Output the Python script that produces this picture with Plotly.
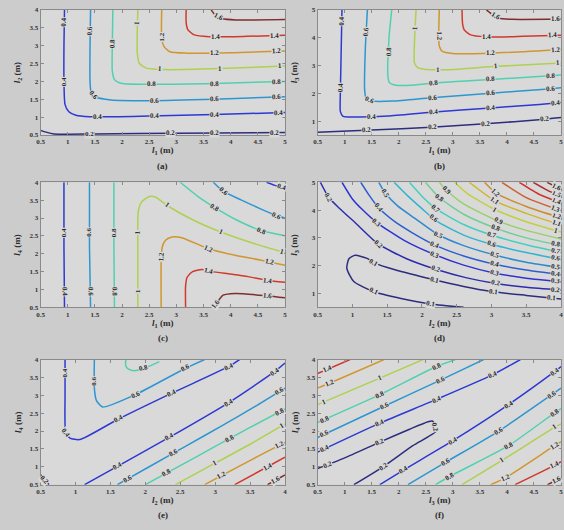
import math
import plotly.graph_objects as go

W, H = 564, 530
PAPER_BG = "#cccccc"
PLOT_BG = "#d9d9d9"
FONT = "Liberation Serif"

# ---------------- data ----------------
# each contour line: (level, x points, y points)
A_LINES = [
    (0.2, [0.5, 0.6, 0.75, 1.5, 3.0, 5.0], [0.63, 0.58, 0.53, 0.53, 0.55, 0.57]),
    (0.4, [0.94, 0.93, 0.93, 0.95, 1.02, 1.15, 1.4, 2.5, 3.7, 5.0], [4.0, 3.0, 2.0, 1.35, 1.15, 1.05, 1.01, 1.03, 1.07, 1.13]),
    (0.6, [1.42, 1.41, 1.41, 1.43, 1.5, 1.8, 2.5, 3.7, 5.0], [4.0, 3.0, 2.0, 1.7, 1.57, 1.48, 1.46, 1.5, 1.57]),
    (0.8, [1.83, 1.82, 1.82, 1.86, 1.97, 2.4, 3.7, 5.0], [4.0, 3.0, 2.3, 2.05, 1.95, 1.92, 1.94, 2.0]),
    (1.0, [2.29, 2.28, 2.28, 2.32, 2.45, 2.8, 3.8, 5.0], [4.0, 3.4, 2.8, 2.5, 2.37, 2.33, 2.36, 2.43]),
    (1.2, [2.73, 2.73, 2.77, 2.88, 3.2, 4.0, 5.0], [4.0, 3.2, 2.98, 2.83, 2.79, 2.8, 2.85]),
    (1.4, [3.18, 3.18, 3.21, 3.33, 3.6, 4.3, 5.0], [4.0, 3.65, 3.45, 3.3, 3.25, 3.26, 3.29]),
    (1.6, [3.64, 3.72, 3.85, 4.1, 5.0], [4.0, 3.85, 3.75, 3.72, 3.73]),
]
A_LABEL_AT = [
    [(1.4, 0.53), (2.9, 0.55), (3.7, 0.56), (4.8, 0.57)],
    [(0.93, 3.65), (0.93, 2.0), (1.55, 1.02), (2.6, 1.03), (3.7, 1.07), (4.88, 1.12)],
    [(1.42, 3.4), (1.47, 1.62), (2.6, 1.46), (3.7, 1.51), (4.85, 1.56)],
    [(1.82, 3.05), (2.55, 1.93), (3.7, 1.95), (4.85, 1.99)],
    [(2.28, 3.65), (2.7, 2.33), (3.8, 2.36), (4.9, 2.42)],
    [(2.73, 3.25), (3.7, 2.8), (4.85, 2.84)],
    [(3.72, 3.25), (4.8, 3.28)],
    [(3.78, 3.8)],
]

B_LINES = [
    (0.2, [0.5, 1.5, 2.6, 3.6, 4.7, 5.0], [0.6, 0.68, 0.78, 0.9, 1.07, 1.13]),
    (0.4, [0.95, 0.93, 0.92, 0.92, 0.97, 1.2, 1.8, 2.6, 3.7, 4.6, 5.0], [5.0, 3.0, 2.0, 1.35, 1.17, 1.15, 1.18, 1.32, 1.47, 1.6, 1.67]),
    (0.6, [1.42, 1.38, 1.37, 1.4, 1.5, 1.9, 2.6, 3.7, 4.7, 5.0], [5.0, 3.5, 2.1, 1.8, 1.72, 1.72, 1.84, 2.0, 2.15, 2.2]),
    (0.8, [1.87, 1.82, 1.8, 1.83, 1.95, 2.3, 2.7, 3.7, 4.8, 5.0], [5.0, 4.0, 2.6, 2.38, 2.29, 2.3, 2.38, 2.5, 2.63, 2.67]),
    (1.0, [2.32, 2.29, 2.29, 2.35, 2.5, 2.9, 3.8, 5.0], [5.0, 3.8, 3.1, 2.92, 2.86, 2.85, 2.97, 3.09]),
    (1.2, [2.75, 2.74, 2.75, 2.8, 3.0, 3.7, 5.0], [5.0, 4.2, 3.7, 3.52, 3.43, 3.44, 3.58]),
    (1.4, [3.17, 3.18, 3.21, 3.33, 3.6, 4.3, 5.0], [5.0, 4.5, 4.28, 4.1, 4.03, 4.05, 4.09]),
    (1.6, [3.62, 3.72, 3.85, 4.1, 5.0], [5.0, 4.85, 4.7, 4.66, 4.67]),
]
B_LABEL_AT = [
    [(1.4, 0.69), (2.63, 0.78), (3.6, 0.9), (4.7, 1.07)],
    [(0.94, 4.6), (0.92, 2.2), (1.5, 1.15), (2.65, 1.33), (3.7, 1.47), (4.9, 1.65)],
    [(1.4, 4.2), (1.45, 1.73), (2.63, 1.85), (3.7, 2.0), (4.8, 2.17)],
    [(1.81, 3.5), (2.65, 2.37), (3.7, 2.5), (4.8, 2.63)],
    [(2.3, 4.35), (2.72, 2.85), (3.8, 2.97), (4.95, 3.08)],
    [(2.74, 4.05), (3.7, 3.44), (4.9, 3.57)],
    [(3.62, 4.03), (4.85, 4.08)],
    [(3.78, 4.73), (4.9, 4.67)],
]

C_LINES = [
    (0.4, [0.93, 0.93, 0.94], [4.0, 2.2, 0.5]),
    (0.4, [4.66, 4.8, 5.0], [4.0, 3.92, 3.83]),
    (0.6, [1.4, 1.4, 1.42], [4.0, 2.2, 0.5]),
    (0.6, [3.68, 3.86, 4.2, 4.56, 4.84, 5.0], [4.0, 3.75, 3.5, 3.25, 3.07, 3.0]),
    (0.8, [1.85, 1.85, 1.86], [4.0, 2.2, 0.5]),
    (0.8, [3.07, 3.4, 3.71, 4.1, 4.56, 5.0], [4.0, 3.6, 3.29, 2.95, 2.65, 2.5]),
    (1.0, [2.29, 2.29, 2.3, 2.36, 2.5, 2.62, 2.83, 3.3, 3.83, 4.4, 5.0], [0.5, 2.0, 3.2, 3.45, 3.6, 3.58, 3.35, 2.95, 2.6, 2.3, 2.03]),
    (1.2, [2.72, 2.72, 2.74, 2.8, 2.92, 3.1, 3.59, 4.1, 4.56, 5.0], [0.5, 1.8, 2.19, 2.38, 2.47, 2.45, 2.14, 1.95, 1.82, 1.68]),
    (1.4, [3.17, 3.17, 3.2, 3.3, 3.47, 3.65, 4.0, 4.32, 4.68, 5.0], [0.5, 1.1, 1.35, 1.5, 1.56, 1.5, 1.43, 1.36, 1.25, 1.2]),
    (1.6, [3.68, 3.78, 3.86, 4.08, 4.68, 5.0], [0.5, 0.7, 0.84, 0.89, 0.82, 0.77]),
]
C_LABEL_AT = [
    [(0.93, 2.6), (0.93, 0.95)],
    [(4.93, 3.84)],
    [(1.4, 2.6), (1.41, 0.95)],
    [(3.86, 3.75), (4.84, 3.07)],
    [(1.85, 2.6), (1.85, 0.95)],
    [(3.71, 3.29), (4.56, 2.65)],
    [(2.29, 2.6), (2.29, 0.95), (2.83, 3.35), (3.83, 2.6), (4.95, 2.05)],
    [(2.72, 1.91), (3.59, 2.14), (4.71, 1.71)],
    [(3.59, 1.52), (4.68, 1.24)],
    [(3.72, 0.6), (4.68, 0.81)],
]

D_LINES = [
    (0.1, [2.6, 2.13, 1.7, 1.3, 1.02, 0.92, 0.95, 1.04, 1.21, 1.33, 1.6, 2.16, 2.6, 3.0, 3.5, 4.0],
          [0.5, 0.62, 0.82, 1.07, 1.43, 1.9, 2.25, 2.37, 2.26, 2.08, 1.86, 1.5, 1.25, 1.07, 0.93, 0.8]),
    (0.2, [0.54, 0.66, 0.82, 1.06, 1.37, 1.78, 2.2, 2.63, 3.06, 3.5, 4.0], [5.0, 4.45, 4.05, 3.5, 2.78, 2.25, 1.87, 1.57, 1.36, 1.22, 1.12]),
    (0.3, [0.85, 1.0, 1.15, 1.35, 1.75, 2.18, 2.6, 3.05, 3.5, 4.0], [5.0, 4.4, 4.0, 3.55, 2.9, 2.4, 2.02, 1.73, 1.55, 1.42]),
    (0.4, [1.12, 1.25, 1.37, 1.6, 1.85, 2.18, 2.6, 3.05, 3.5, 4.0], [5.0, 4.5, 4.1, 3.6, 3.2, 2.75, 2.35, 2.05, 1.84, 1.67]),
    (0.5, [1.38, 1.47, 1.65, 1.9, 2.23, 2.6, 3.05, 3.5, 4.0], [5.0, 4.62, 4.15, 3.7, 3.12, 2.72, 2.38, 2.12, 1.92]),
    (0.6, [1.6, 1.8, 2.0, 2.2, 2.6, 3.0, 3.5, 4.0], [5.0, 4.5, 4.05, 3.62, 3.1, 2.77, 2.47, 2.22]),
    (0.7, [1.82, 2.0, 2.2, 2.6, 3.0, 3.5, 4.0], [5.0, 4.5, 4.05, 3.48, 3.1, 2.75, 2.47]),
    (0.8, [2.05, 2.25, 2.6, 3.06, 3.5, 4.0], [5.0, 4.45, 3.85, 3.35, 3.0, 2.72]),
    (0.9, [2.25, 2.35, 2.6, 3.1, 3.5, 4.0], [5.0, 4.72, 4.22, 3.6, 3.27, 2.96]),
    (1.0, [2.47, 2.65, 3.05, 3.5, 4.0], [5.0, 4.6, 4.02, 3.58, 3.21]),
    (1.1, [2.68, 3.05, 3.5, 4.0], [5.0, 4.33, 3.88, 3.46]),
    (1.2, [2.9, 3.06, 3.5, 4.0], [5.0, 4.62, 4.13, 3.72]),
    (1.3, [3.15, 3.5, 4.0], [5.0, 4.45, 3.98]),
    (1.4, [3.4, 3.7, 4.0], [5.0, 4.55, 4.25]),
    (1.5, [3.6, 3.8, 4.0], [5.0, 4.72, 4.5]),
    (1.6, [3.8, 3.9, 4.0], [5.0, 4.87, 4.75]),
]
D_LABEL_AT = [
    [(1.3, 1.08), (2.13, 0.63), (1.3, 2.08), (2.18, 1.5), (3.03, 1.07), (3.86, 0.84)],
    [(0.66, 4.45), (1.37, 2.78), (2.2, 1.87), (3.06, 1.36), (3.92, 1.12)],
    [(1.35, 3.55), (2.18, 2.4), (3.05, 1.73), (3.92, 1.43)],
    [(1.37, 4.1), (2.18, 2.73), (3.05, 2.05), (3.92, 1.67)],
    [(1.47, 4.62), (2.23, 3.11), (3.05, 2.38), (3.92, 1.9)],
    [(2.16, 3.7), (3.0, 2.78), (3.92, 2.23)],
    [(2.2, 4.05), (3.0, 3.09), (3.92, 2.47)],
    [(2.25, 4.44), (3.06, 3.33), (3.92, 2.7)],
    [(2.35, 4.72), (3.1, 3.6)],
    [(3.05, 4.02), (3.92, 3.2)],
    [(3.05, 4.33), (3.92, 3.46)],
    [(3.06, 4.62), (3.92, 3.71)],
    [(3.92, 4.05)],
    [(3.92, 4.27)],
    [(3.92, 4.5)],
    [(3.92, 4.76)],
]

E_LINES = [
    (0.2, [0.5, 0.55, 0.62], [0.78, 0.65, 0.5]),
    (0.4, [0.85, 0.85, 0.86, 0.92, 1.06, 1.61, 2.38, 3.19, 3.35], [4.0, 3.0, 1.95, 1.8, 1.76, 2.33, 3.06, 3.8, 4.0]),
    (0.6, [1.27, 1.27, 1.3, 1.39, 1.86, 2.57, 2.85], [4.0, 3.2, 2.85, 2.67, 3.02, 3.75, 4.0]),
    (0.8, [1.72, 1.72, 1.76, 1.84, 1.98, 2.2], [4.0, 3.82, 3.73, 3.69, 3.75, 3.94]),
    (0.4, [1.13, 1.6, 2.34, 3.19, 3.85, 4.0], [0.5, 1.01, 1.82, 2.79, 3.66, 3.9]),
    (0.6, [1.6, 2.1, 2.6, 3.1, 3.6, 4.0], [0.5, 1.05, 1.6, 2.15, 2.72, 3.2]),
    (0.8, [2.0, 2.5, 3.0, 3.5, 4.0], [0.5, 1.03, 1.57, 2.1, 2.62]),
    (1.0, [2.43, 3.0, 3.5, 4.0], [0.5, 1.1, 1.63, 2.2]),
    (1.2, [2.85, 3.3, 3.7, 4.0], [0.5, 0.97, 1.38, 1.68]),
    (1.4, [3.28, 3.75, 4.0], [0.5, 1.0, 1.27]),
    (1.6, [3.75, 3.87, 4.0], [0.5, 0.63, 0.77]),
]
E_LABEL_AT = [
    [(0.56, 0.65)],
    [(0.85, 3.61), (0.85, 1.93), (1.61, 2.33), (2.38, 3.06), (3.19, 3.8)],
    [(1.28, 3.39), (1.86, 3.02), (2.57, 3.75)],
    [(1.98, 3.75)],
    [(1.6, 1.01), (2.34, 1.82), (3.19, 2.79), (3.85, 3.66)],
    [(1.75, 0.66), (2.4, 1.38), (3.92, 3.12)],
    [(2.3, 0.82), (3.2, 1.78), (3.92, 2.55)],
    [(3.0, 1.1), (3.95, 2.15)],
    [(3.1, 0.75), (3.92, 1.6)],
    [(3.75, 1.0)],
    [(3.87, 0.63)],
]

F_LINES = [
    (0.2, [0.5, 1.0, 1.65, 2.2, 2.54, 2.62, 2.66, 2.69, 2.26, 1.71, 1.17], [0.95, 1.25, 1.69, 2.05, 2.26, 2.28, 2.2, 2.0, 1.59, 1.0, 0.5]),
    (0.4, [0.5, 1.65, 2.69, 3.73, 4.25], [1.41, 2.22, 2.88, 3.57, 4.0]),
    (0.6, [0.5, 1.74, 2.78, 3.57], [1.82, 2.7, 3.43, 4.0]),
    (0.8, [0.5, 1.65, 2.69, 3.05], [2.24, 3.02, 3.8, 4.0]),
    (1.0, [0.5, 1.65, 2.45], [2.74, 3.48, 4.0]),
    (1.2, [0.5, 0.74, 1.73], [3.2, 3.35, 4.0]),
    (1.4, [0.5, 1.1], [3.61, 4.0]),
    (0.4, [1.65, 2.08, 3.0, 4.03, 4.88, 5.0], [0.5, 0.9, 1.73, 2.74, 3.66, 3.8]),
    (0.6, [2.17, 2.87, 3.85, 4.83, 5.0], [0.5, 1.13, 2.0, 3.02, 3.2]),
    (0.8, [2.68, 2.93, 4.03, 4.88, 5.0], [0.5, 0.72, 1.59, 2.51, 2.63]),
    (1.0, [3.17, 3.91, 4.88, 5.0], [0.5, 1.18, 2.1, 2.2]),
    (1.2, [3.7, 3.97, 4.88, 5.0], [0.5, 0.69, 1.59, 1.7]),
    (1.4, [4.15, 4.88, 5.0], [0.5, 1.04, 1.14]),
    (1.6, [4.75, 4.92, 5.0], [0.5, 0.63, 0.7]),
]
F_LABEL_AT = [
    [(0.68, 1.05), (1.65, 1.69), (2.66, 2.12), (1.71, 1.0)],
    [(0.62, 1.49), (1.65, 2.22), (2.69, 2.88), (3.73, 3.57)],
    [(0.62, 1.9), (1.74, 2.7), (2.78, 3.43)],
    [(0.62, 2.32), (1.65, 3.02), (2.69, 3.8)],
    [(0.62, 2.82), (1.65, 3.48)],
    [(0.74, 3.3)],
    [(0.68, 3.7)],
    [(2.08, 0.9), (3.0, 1.73), (4.03, 2.74), (4.88, 3.66)],
    [(2.87, 1.13), (3.85, 2.0), (4.83, 3.02)],
    [(2.93, 0.72), (4.03, 1.59), (4.88, 2.51)],
    [(3.91, 1.18), (4.88, 2.1)],
    [(3.97, 0.69), (4.88, 1.59)],
    [(4.88, 1.04)],
    [(4.92, 0.63)],
]

TICKS_05_5 = [0.5, 1, 1.5, 2, 2.5, 3, 3.5, 4, 4.5, 5]
TICKS_05_4 = [0.5, 1, 1.5, 2, 2.5, 3, 3.5, 4]
TICKS_1_5 = [1, 2, 3, 4, 5]


def lab(sym, idx):
    return f"<b><i>{sym}</i></b><sub><b>{idx}</b></sub><b> (m)</b>"


PANELS = [
    dict(lines=A_LINES, labels=A_LABEL_AT, vmin=0.2, vmax=1.6, xr=[0.5, 5], yr=[0.5, 4], xt=TICKS_05_5, yt=TICKS_05_4,
         xl=lab("l", 1), yl=lab("l", 2), tag="(a)", box=(37, 284, 6, 133)),
    dict(lines=B_LINES, labels=B_LABEL_AT, vmin=0.2, vmax=1.6, xr=[0.5, 5], yr=[0.5, 5], xt=TICKS_05_5, yt=TICKS_1_5,
         xl=lab("l", 1), yl=lab("l", 3), tag="(b)", box=(317, 563, 6, 133)),
    dict(lines=C_LINES, labels=C_LABEL_AT, vmin=0.2, vmax=1.6, xr=[0.5, 5], yr=[0.5, 4], xt=TICKS_05_5, yt=TICKS_05_4,
         xl=lab("l", 1), yl=lab("l", 4), tag="(c)", box=(37, 284, 181, 308)),
    dict(lines=D_LINES, labels=D_LABEL_AT, vmin=0.1, vmax=1.6, xr=[0.5, 4], yr=[0.5, 5], xt=TICKS_05_4, yt=TICKS_1_5,
         xl=lab("l", 2), yl=lab("l", 3), tag="(d)", box=(317, 563, 181, 308)),
    dict(lines=E_LINES, labels=E_LABEL_AT, vmin=0.2, vmax=1.6, xr=[0.5, 4], yr=[0.5, 4], xt=TICKS_05_4, yt=TICKS_05_4,
         xl=lab("l", 2), yl=lab("l", 4), tag="(e)", box=(37, 284, 361, 488)),
    dict(lines=F_LINES, labels=F_LABEL_AT, vmin=0.2, vmax=1.6, xr=[0.5, 5], yr=[0.5, 4], xt=TICKS_05_5, yt=TICKS_05_4,
         xl=lab("l", 3), yl=lab("l", 4), tag="(f)", box=(317, 563, 361, 488)),
]


# ---------------- styling helpers ----------------
def jet(t):
    t = min(max(t, 0.0), 1.0)
    f = lambda v: min(max(v, 0.0), 1.0)
    r = f(1.5 - abs(4 * t - 3))
    g = f(1.5 - abs(4 * t - 2))
    b = f(1.5 - abs(4 * t - 1))
    w, gray = 0.36, 0.5
    r, g, b = [(c * (1 - w) + gray * w) for c in (r, g, b)]
    return "#%02x%02x%02x" % (int(r * 255), int(g * 255), int(b * 255))


def fmt(v):
    s = ("%.1f" % v)
    return s[:-2] if s.endswith(".0") else s


def snap(xs, ys, pt, sx, sy):
    best = None
    P = (pt[0] * sx, -pt[1] * sy)
    for i in range(len(xs) - 1):
        A = (xs[i] * sx, -ys[i] * sy)
        B = (xs[i + 1] * sx, -ys[i + 1] * sy)
        dx, dy = B[0] - A[0], B[1] - A[1]
        L2 = dx * dx + dy * dy
        if L2 == 0:
            continue
        u = ((P[0] - A[0]) * dx + (P[1] - A[1]) * dy) / L2
        u = min(max(u, 0.0), 1.0)
        Q = (A[0] + u * dx, A[1] + u * dy)
        d = (Q[0] - P[0]) ** 2 + (Q[1] - P[1]) ** 2
        if best is None or d < best[0]:
            ang = math.degrees(math.atan2(dy, dx))
            best = (d, Q[0] / sx, -Q[1] / sy, ang)
    _, x, y, ang = best
    while ang >= 90:
        ang -= 180
    while ang < -90:
        ang += 180
    return x, y, ang


fig = go.Figure()
annotations = []
layout = {}
TXT = "#2a2a2a"
for i, p in enumerate(PANELS):
    n = "" if i == 0 else str(i + 1)
    xa, ya = "x" + n, "y" + n
    l, r, t, b = p["box"]
    sx = (r - l) / (p["xr"][1] - p["xr"][0])
    sy = (b - t) / (p["yr"][1] - p["yr"][0])
    for (lev, xs, ys), lbls in zip(p["lines"], p["labels"]):
        col = jet((lev - p["vmin"]) / (p["vmax"] - p["vmin"]))
        fig.add_trace(go.Scatter(x=xs, y=ys, mode="lines", xaxis=xa, yaxis=ya, showlegend=False,
                                 line=dict(color=col, width=1.5, shape="spline", smoothing=0.6),
                                 hoverinfo="skip"))
        for pt in lbls:
            x, y, ang = snap(xs, ys, pt, sx, sy)
            annotations.append(dict(x=x, y=y, xref=xa, yref=ya, text="<b>" + fmt(lev) + "</b>", showarrow=False,
                                    xanchor="center", yanchor="middle",
                                    textangle=ang, font=dict(family=FONT, size=7, color=TXT),
                                    bgcolor=PLOT_BG, borderpad=0))
    tickfont = dict(family=FONT, size=7, color="#333333", weight="bold")
    common = dict(showgrid=False, zeroline=False, showline=True, linecolor="#8a8a8a", linewidth=1,
                  mirror="ticks", ticks="inside", ticklen=3, tickcolor="#8a8a8a", tickfont=tickfont)
    layout["xaxis" + n] = dict(domain=[l / W, r / W], range=p["xr"], tickvals=p["xt"],
                               ticktext=[fmt(v) for v in p["xt"]], anchor=ya, **common)
    layout["yaxis" + n] = dict(domain=[1 - b / H, 1 - t / H], range=p["yr"], tickvals=p["yt"],
                               ticktext=[fmt(v) for v in p["yt"]], anchor=xa, **common)
    cx = (l + r) / 2 / W
    annotations.append(dict(x=cx, y=1 - (b + 16) / H, xref="paper", yref="paper", text=p["xl"], showarrow=False,
                            xanchor="center", yanchor="middle", font=dict(family=FONT, size=9, color=TXT)))
    annotations.append(dict(x=cx, y=1 - (b + 31) / H, xref="paper", yref="paper", text="<b>" + p["tag"] + "</b>",
                            xanchor="center", yanchor="middle",
                            showarrow=False, font=dict(family=FONT, size=9, color=TXT)))
    annotations.append(dict(x=(l - 23) / W, y=1 - (t + b) / 2 / H, xref="paper", yref="paper", text=p["yl"],
                            xanchor="center", yanchor="middle",
                            showarrow=False, textangle=-90, font=dict(family=FONT, size=9, color=TXT)))

fig.update_layout(width=W, height=H, margin=dict(l=0, r=0, t=0, b=0), paper_bgcolor=PAPER_BG,
                  plot_bgcolor=PLOT_BG, annotations=annotations, **layout)
fig.write_html("out.html", config={"displayModeBar": False},
               post_script="document.body.style.margin='0px';document.body.style.overflow='hidden';")
